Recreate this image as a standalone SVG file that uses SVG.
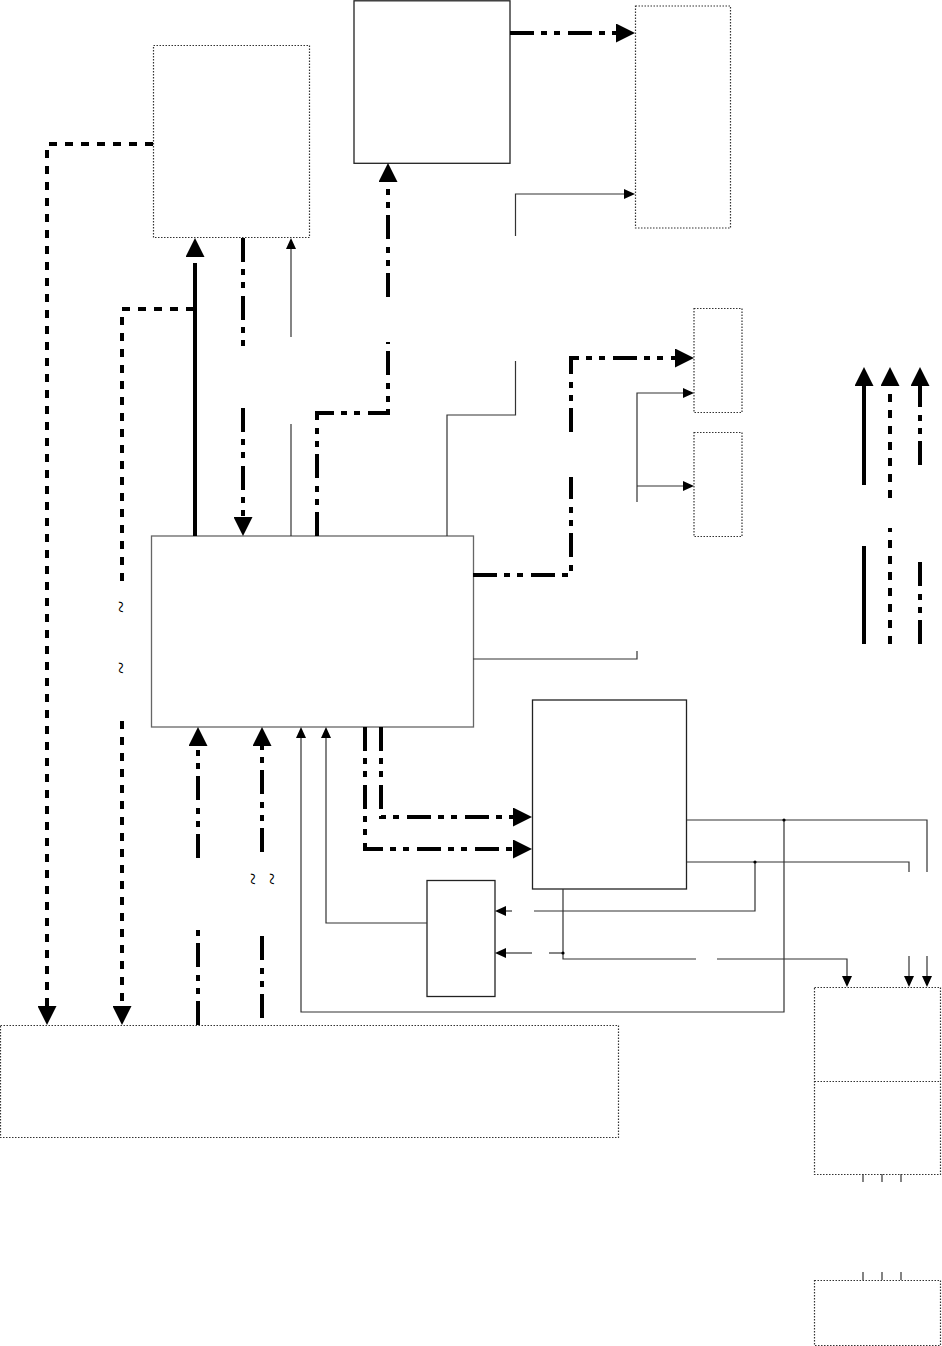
<svg xmlns="http://www.w3.org/2000/svg" width="942" height="1346" viewBox="0 0 942 1346">
<style>
.thin{fill:none;stroke:#333;stroke-width:1.2}
.solid{fill:none;stroke:#000;stroke-width:4}
.dash{fill:none;stroke:#000;stroke-width:4;stroke-dasharray:8 8}
.dd{fill:none;stroke:#000;stroke-width:4;stroke-dasharray:24 7 6 7 6 8}
.box{fill:#fff;stroke:#222;stroke-width:1.3}
.boxg{fill:#fff;stroke:#666;stroke-width:1.3}
.dot{fill:#fff;stroke:#333;stroke-width:1.2;stroke-dasharray:1.5 1.5}
.tilde{font-family:"Liberation Serif",serif;font-size:22px;fill:#000}
</style>
<defs>
<marker id="big" markerUnits="userSpaceOnUse" markerWidth="19" markerHeight="19" viewBox="0 0 19 19" refX="0" refY="9.5" orient="auto"><path d="M0,0 L19,9.5 L0,19 z" fill="#000"/></marker>
<marker id="small" markerUnits="userSpaceOnUse" markerWidth="11" markerHeight="10" viewBox="0 0 11 10" refX="0" refY="5" orient="auto"><path d="M0,0 L11,5 L0,10 z" fill="#000"/></marker>
</defs>
<rect width="942" height="1346" fill="#fff"/>
<g id="nodeA"><rect class="dot" x="153.5" y="45.5" width="156" height="192"/></g>
<g id="nodeB"><rect class="box" x="354" y="0.8" width="156" height="162.5"/></g>
<g id="nodeC"><rect class="dot" x="635.5" y="6" width="95" height="222"/></g>
<g id="nodeD"><rect class="dot" x="694" y="308.5" width="48" height="104"/></g>
<g id="nodeE"><rect class="dot" x="694" y="432.5" width="48" height="104"/></g>
<g id="nodeM"><rect class="boxg" x="151.5" y="536" width="322" height="191"/></g>
<g id="nodeF"><rect class="box" x="532.5" y="700" width="154" height="189"/></g>
<g id="nodeG"><rect class="box" x="427" y="880.5" width="68" height="116"/></g>
<g id="nodeH"><rect class="dot" x="814.5" y="987.5" width="126" height="187"/><line class="dot" x1="814.5" y1="1081.5" x2="940.5" y2="1081.5"/></g>
<g id="nodeI"><rect class="dot" x="814.5" y="1280.5" width="126" height="65"/></g>
<g id="nodeJ"><rect class="dot" x="0.5" y="1025.5" width="618" height="112"/></g>
<g id="connectors">
<path class="dash" d="M153,144 H47 V1006" marker-end="url(#big)"/>
<path class="dash" d="M194,309 H122 V585"/>
<path class="dash" d="M122,721 V1006" marker-end="url(#big)"/>
<path class="solid" d="M195,536 V287"/>
<path class="dd" d="M195,287 V257" marker-end="url(#big)"/>
<path class="dd" d="M243,238 V352"/>
<path class="dd" d="M243,408 V517" marker-end="url(#big)"/>
<path class="thin" d="M291,536 V424"/>
<path class="thin" d="M291,337 V249" marker-end="url(#small)"/>
<path class="dd" d="M317,536 V413 H388 V342"/>
<path class="dd" d="M388,297 V182" marker-end="url(#big)"/>
<path class="thin" d="M447,536 V415 H515.5 V361"/>
<path class="thin" d="M515.5,236 V194 H624" marker-end="url(#small)"/>
<path class="dd" d="M510,33 H616" marker-end="url(#big)"/>
<path class="dd" d="M473,575 H571 V477"/>
<path class="dd" d="M571,432 V358 H675" marker-end="url(#big)"/>
<path class="thin" d="M637,502 V393 H683" marker-end="url(#small)"/>
<path class="thin" d="M637,486 H683" marker-end="url(#small)"/>
<path class="thin" d="M473,659 H637 V651"/>
<path class="dd" d="M198,1025 V927"/>
<path class="dd" d="M198,858 V746" marker-end="url(#big)"/>
<path class="dd" d="M262,1018 V932"/>
<path class="dd" d="M262,852 V746" marker-end="url(#big)"/>
<path class="thin" d="M784,820 V1012 H301 V738" marker-end="url(#small)"/>
<path class="thin" d="M427,923 H326 V738" marker-end="url(#small)"/>
<path class="dd" d="M381,727 V817 H513" marker-end="url(#big)"/>
<path class="dd" d="M365,727 V849 H513" marker-end="url(#big)"/>
<path class="thin" d="M687,820 H927 V872"/>
<path class="thin" d="M687,862 H909 V872"/>
<path class="thin" d="M755,862 V911 H534"/>
<path class="thin" d="M512,911 H506" marker-end="url(#small)"/>
<path class="thin" d="M563,889 V959 H696"/>
<path class="thin" d="M717,959 H847 V976" marker-end="url(#small)"/>
<path class="thin" d="M563,953 H549"/>
<path class="thin" d="M532,953 H506" marker-end="url(#small)"/>
<path class="thin" d="M909,956 V976" marker-end="url(#small)"/>
<path class="thin" d="M927,956 V976" marker-end="url(#small)"/>
<path class="thin" d="M863,1174 V1182 M882,1174 V1182 M901,1174 V1182 M863,1272 V1280 M882,1272 V1280 M901,1272 V1280"/>
<circle cx="784" cy="820" r="1.6" fill="#000"/>
<circle cx="755" cy="862" r="1.6" fill="#000"/>
<circle cx="563" cy="953" r="1.6" fill="#000"/>
</g>
<g id="legend">
<path class="solid" d="M864,644 V546"/>
<path class="solid" d="M864,485 V386" marker-end="url(#big)"/>
<path class="dash" d="M890,644 V528"/>
<path class="dash" d="M890,498 V386" marker-end="url(#big)"/>
<path class="dd" d="M920,644 V561"/>
<path class="dd" d="M920,465 V386" marker-end="url(#big)"/>
</g>
<g id="marks">
<text class="tilde" text-anchor="middle" dominant-baseline="central" transform="translate(121,607) rotate(90)">~</text>
<text class="tilde" text-anchor="middle" dominant-baseline="central" transform="translate(121,668) rotate(90)">~</text>
<text class="tilde" text-anchor="middle" dominant-baseline="central" transform="translate(253,879) rotate(90)">~</text>
<text class="tilde" text-anchor="middle" dominant-baseline="central" transform="translate(272,879) rotate(90)">~</text>
</g>
</svg>
